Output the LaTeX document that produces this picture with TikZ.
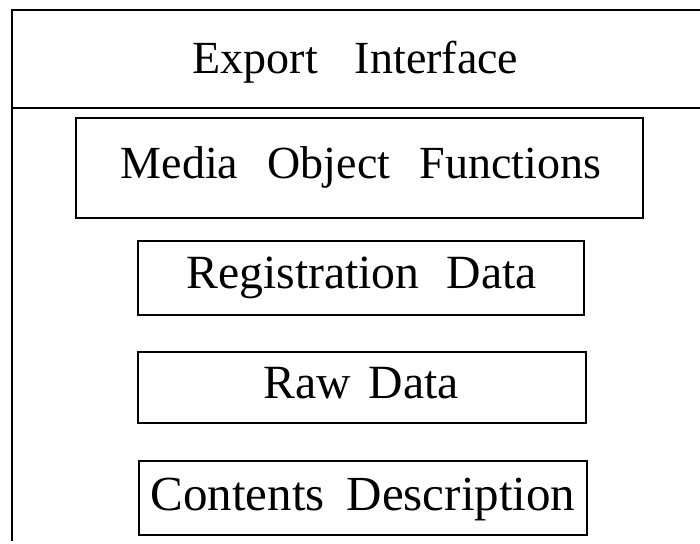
\documentclass[tikz,border=0pt]{standalone}
\usepackage{fontspec}
\setmainfont{Liberation Serif}
\begin{document}
\begin{tikzpicture}[x=1pt,y=-1pt,line width=1.8pt,
  box/.style={draw,rectangle,inner sep=0pt,line width=1.8pt},
  lbl/.style={anchor=base,inner sep=0pt,font=\fontsize{46}{50}\selectfont},
  lblb/.style={lbl,font=\fontsize{47.7}{52}\selectfont}]
\useasboundingbox (0,0) rectangle (700,543);
\coordinate (tl) at (12,10);
\coordinate (tr) at (700,10);
\coordinate (dl) at (12,108);
\coordinate (dr) at (700,108);
\coordinate (bl) at (12,541);
\draw (tr) -- (tl) -- (bl);
\draw (dl) -- (dr);
\node[lbl] (exportT) at (355.5,73) {Export\hspace{37pt}Interface};
\node[box,minimum width=567pt,minimum height=100pt] (media) at (359.5,168) {};
\node[lbl] (mediaT) at (361,178) {Media\hspace{29.5pt}Object\hspace{29.5pt}Functions};
\node[box,minimum width=446pt,minimum height=74pt] (reg) at (361,278) {};
\node[lblb] (regT) at (361.5,288) {Registration\hspace{27pt}Data};
\node[box,minimum width=448pt,minimum height=71pt] (raw) at (362,387.5) {};
\node[lblb] (rawT) at (361,398) {Raw\hspace{18pt}Data};
\node[box,minimum width=448pt,minimum height=74pt] (cont) at (363,498) {};
\node[lbl,font=\fontsize{49}{53}\selectfont] (contT) at (363,510) {Contents\hspace{22pt}Description};
\end{tikzpicture}
\end{document}
